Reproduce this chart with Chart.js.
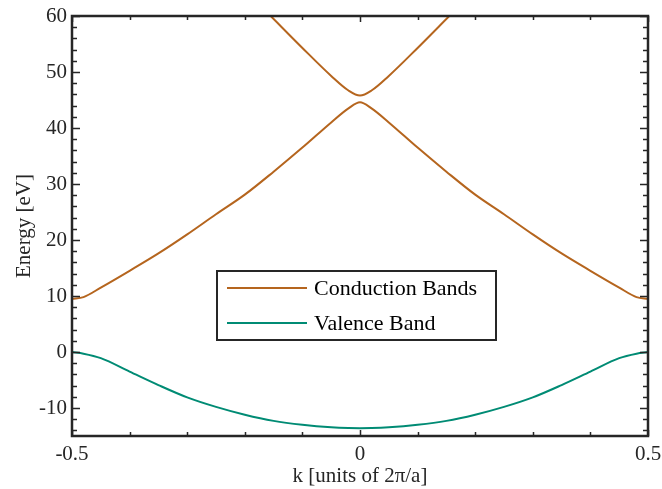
<!DOCTYPE html>
<html>
<head>
<meta charset="utf-8">
<script src="https://cdn.jsdelivr.net/npm/chart.js@4.4.1/dist/chart.umd.min.js"></script>
<style>
  html, body { margin: 0; padding: 0; background: #fff; }
  #wrap { width: 662px; height: 489px; }
</style>
</head>
<body>
<div id="wrap"><canvas id="bands"></canvas></div>
<script>
// k values (units of 2pi/a) for the full-zone curves
var kGrid = [-0.5, -0.48, -0.45, -0.4, -0.35, -0.3, -0.25, -0.2, -0.15, -0.1, -0.05, -0.02, 0,
             0.02, 0.05, 0.1, 0.15, 0.2, 0.25, 0.3, 0.35, 0.4, 0.45, 0.48, 0.5];
var valenceBand = [0, -0.3, -1.1, -3.5, -5.9, -8.1, -9.8, -11.2, -12.3, -13.0, -13.45, -13.58, -13.6,
                   -13.58, -13.45, -13.0, -12.3, -11.2, -9.8, -8.1, -5.9, -3.5, -1.1, -0.3, 0];
var conductionLow = [9.5, 9.8, 11.5, 14.5, 17.6, 21.0, 24.6, 28.1, 32.2, 36.5, 41.0, 43.5, 44.6,
                     43.5, 41.0, 36.5, 32.2, 28.1, 24.6, 21.0, 17.6, 14.5, 11.5, 9.8, 9.5];
// upper conduction band only visible near k = 0
var kUpper = [-0.155, -0.1, -0.05, -0.02, 0, 0.02, 0.05, 0.1, 0.155];
var conductionHigh = [60, 54.3, 49.3, 46.7, 45.8, 46.7, 49.3, 54.3, 60];

var yTicks = [-10, 0, 10, 20, 30, 40, 50, 60];
var xTicks = [-0.5, 0, 0.5];

var axisColor = "#262626";
var brown = "#b5651e";
var teal = "#008b74";
var serif = "'Liberation Serif', 'DejaVu Serif', serif";

function pts(xs, ys) {
    return xs.map(function (x, i) { return { x: x, y: ys[i] }; });
}

// box, inward ticks and the in-plot legend
var framePlugin = {
    id: "frame",
    afterDatasetsDraw: function (chart) {
        var ctx = chart.ctx;
        var a = chart.chartArea;
        var xs = chart.scales.x, ys = chart.scales.y;
        ctx.save();
        ctx.strokeStyle = axisColor;
        ctx.lineWidth = 1.5;
        ctx.beginPath();
        for (var v = -14; v <= 60; v += 2) {
            var py = Math.round(ys.getPixelForValue(v)) + 0.5;
            var len = v % 10 === 0 ? 8 : 5;
            ctx.moveTo(a.left, py); ctx.lineTo(a.left + len, py);
            ctx.moveTo(a.right, py); ctx.lineTo(a.right - len, py);
        }
        for (var i = -5; i <= 5; i++) {
            var px = Math.round(xs.getPixelForValue(i / 10)) + 0.5;
            var l2 = i % 5 === 0 ? 6 : 4;
            ctx.moveTo(px, a.bottom); ctx.lineTo(px, a.bottom - l2);
            ctx.moveTo(px, a.top); ctx.lineTo(px, a.top + l2);
        }
        ctx.stroke();
        ctx.lineWidth = 2.5;
        ctx.strokeRect(a.left, a.top, a.right - a.left, a.bottom - a.top);

        // legend
        var items = chart.data.datasets.filter(function (d) { return d.label; });
        ctx.fillStyle = "#fff";
        ctx.fillRect(217, 271, 279, 69);
        ctx.lineWidth = 2;
        ctx.strokeRect(217, 271, 279, 69);
        ctx.font = "22px " + serif;
        ctx.textBaseline = "middle";
        items.forEach(function (d, j) {
            var y = 288 + j * 35;
            ctx.strokeStyle = d.borderColor;
            ctx.lineWidth = 2;
            ctx.beginPath();
            ctx.moveTo(227, y); ctx.lineTo(307, y);
            ctx.stroke();
            ctx.fillStyle = "#000";
            ctx.fillText(d.label, 314, y + 1);
        });
        ctx.restore();
    }
};

var ctx = document.getElementById("bands").getContext("2d");
var chart = new Chart(ctx, {
    type: "line",
    data: {
        datasets: [
            { label: "Conduction Bands", data: pts(kGrid, conductionLow), borderColor: brown },
            { label: "", data: pts(kUpper, conductionHigh), borderColor: brown },
            { label: "Valence Band", data: pts(kGrid, valenceBand), borderColor: teal }
        ]
    },
    options: {
        responsive: true,
        maintainAspectRatio: false,
        animation: false,
        layout: { padding: { top: 16, right: 14, left: 0, bottom: 0 } },
        elements: {
            point: { radius: 0 },
            line: { borderWidth: 2, cubicInterpolationMode: "monotone", fill: false }
        },
        plugins: { legend: { display: false }, tooltip: { enabled: false } },
        scales: {
            x: {
                type: "linear",
                min: -0.5,
                max: 0.5,
                afterFit: function (s) { s.height = 53; s.paddingLeft = 0; s.paddingRight = 0; },
                afterBuildTicks: function (s) { s.ticks = xTicks.map(function (v) { return { value: v }; }); },
                grid: { display: false, drawTicks: false },
                border: { display: false },
                ticks: { padding: 6, color: axisColor, maxRotation: 0, autoSkip: false,
                         font: { family: serif, size: 21 } },
                title: { display: true, text: "k [units of 2\u03c0/a]", color: axisColor,
                         padding: { top: 0, bottom: 0 }, font: { family: serif, size: 21 } }
            },
            y: {
                min: -15,
                max: 60,
                afterFit: function (s) { s.width = 72; s.paddingTop = 0; s.paddingBottom = 0; },
                afterBuildTicks: function (s) { s.ticks = yTicks.map(function (v) { return { value: v }; }); },
                grid: { display: false, drawTicks: false },
                border: { display: false },
                ticks: { padding: 5, color: axisColor, font: { family: serif, size: 21 } },
                title: { display: true, text: "Energy [eV]", color: axisColor,
                         padding: { top: 12, bottom: 0 }, font: { family: serif, size: 21 } }
            }
        }
    },
    plugins: [framePlugin]
});
</script>
</body>
</html>
